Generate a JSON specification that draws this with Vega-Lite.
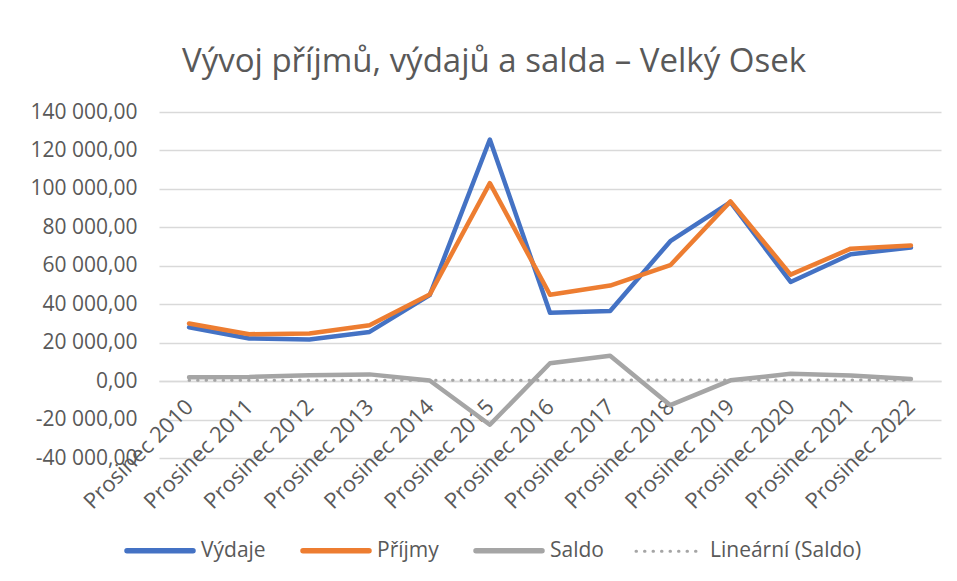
{
  "$schema": "https://vega.github.io/schema/vega-lite/v6.json",
  "width": 782,
  "height": 346,
  "autosize": {"type": "none"},
  "padding": {"top": 112, "left": 159, "right": 16, "bottom": 123},
  "background": "white",
  "title": {
    "text": "Vývoj příjmů, výdajů a salda – Velký Osek",
    "font": "Open Sans",
    "fontSize": 33,
    "fontWeight": "normal",
    "color": "#595959",
    "anchor": "middle",
    "dx": -56,
    "offset": 22
  },
  "data": {
    "values": [
      {"rok": 2010, "series": "Výdaje", "value": 28000},
      {"rok": 2011, "series": "Výdaje", "value": 22200},
      {"rok": 2012, "series": "Výdaje", "value": 21700},
      {"rok": 2013, "series": "Výdaje", "value": 25600},
      {"rok": 2014, "series": "Výdaje", "value": 44700},
      {"rok": 2015, "series": "Výdaje", "value": 125700},
      {"rok": 2016, "series": "Výdaje", "value": 35600},
      {"rok": 2017, "series": "Výdaje", "value": 36500},
      {"rok": 2018, "series": "Výdaje", "value": 72800},
      {"rok": 2019, "series": "Výdaje", "value": 93100},
      {"rok": 2020, "series": "Výdaje", "value": 51600},
      {"rok": 2021, "series": "Výdaje", "value": 66000},
      {"rok": 2022, "series": "Výdaje", "value": 69500},
      {"rok": 2010, "series": "Příjmy", "value": 30000},
      {"rok": 2011, "series": "Příjmy", "value": 24400},
      {"rok": 2012, "series": "Příjmy", "value": 24800},
      {"rok": 2013, "series": "Příjmy", "value": 29100},
      {"rok": 2014, "series": "Příjmy", "value": 45000},
      {"rok": 2015, "series": "Příjmy", "value": 103000},
      {"rok": 2016, "series": "Příjmy", "value": 44900},
      {"rok": 2017, "series": "Příjmy", "value": 49700},
      {"rok": 2018, "series": "Příjmy", "value": 60300},
      {"rok": 2019, "series": "Příjmy", "value": 93500},
      {"rok": 2020, "series": "Příjmy", "value": 55400},
      {"rok": 2021, "series": "Příjmy", "value": 68900},
      {"rok": 2022, "series": "Příjmy", "value": 70600},
      {"rok": 2010, "series": "Saldo", "value": 2000},
      {"rok": 2011, "series": "Saldo", "value": 2200},
      {"rok": 2012, "series": "Saldo", "value": 3100},
      {"rok": 2013, "series": "Saldo", "value": 3500},
      {"rok": 2014, "series": "Saldo", "value": 300},
      {"rok": 2015, "series": "Saldo", "value": -22700},
      {"rok": 2016, "series": "Saldo", "value": 9300},
      {"rok": 2017, "series": "Saldo", "value": 13200},
      {"rok": 2018, "series": "Saldo", "value": -12500},
      {"rok": 2019, "series": "Saldo", "value": 400},
      {"rok": 2020, "series": "Saldo", "value": 3800},
      {"rok": 2021, "series": "Saldo", "value": 2900},
      {"rok": 2022, "series": "Saldo", "value": 1100}
    ]
  },
  "encoding": {
    "x": {
      "field": "rok",
      "type": "ordinal",
      "axis": {
        "title": null,
        "offset": -77,
        "labelExpr": "'Prosinec ' + datum.value",
        "labelAngle": -45,
        "labelAlign": "right",
        "labelBaseline": "middle",
        "labelPadding": 22,
        "labelFont": "Open Sans",
        "labelFontSize": 22,
        "labelColor": "#595959",
        "ticks": false,
        "grid": false,
        "domain": true,
        "domainColor": "#D9D9D9",
        "domainWidth": 1.3,
        "labelOverlap": false
      }
    },
    "y": {
      "field": "value",
      "type": "quantitative",
      "scale": {"domain": [-40000, 140000], "nice": false, "zero": false},
      "axis": {
        "title": null,
        "values": [-40000, -20000, 0, 20000, 40000, 60000, 80000, 100000, 120000, 140000],
        "format": ",.2f",
        "labelFont": "Open Sans",
        "labelFontSize": 21,
        "labelColor": "#595959",
        "labelPadding": 22,
        "ticks": false,
        "domain": false,
        "grid": true,
        "gridColor": "#D9D9D9",
        "gridWidth": 1.3
      }
    }
  },
  "layer": [
    {
      "mark": {"type": "line", "strokeWidth": 4.5, "strokeJoin": "round", "strokeCap": "round"},
      "encoding": {
        "color": {
          "field": "series",
          "type": "nominal",
          "scale": {
            "domain": ["Výdaje", "Příjmy", "Saldo", "Lineární (Saldo)"],
            "range": ["#4472C4", "#ED7D31", "#A5A5A5", "#A5A5A5"]
          },
          "legend": {
            "title": null,
            "orient": "none",
            "direction": "horizontal",
            "legendX": -35,
            "legendY": 428,
            "symbolType": "stroke",
            "symbolSize": 4356,
            "symbolStrokeWidth": 5.5,
            "labelFont": "Open Sans",
            "labelFontSize": 21,
            "labelColor": "#595959",
            "labelOffset": 56,
            "columnPadding": 26,
            "encode": {
              "symbols": {
                "update": {
                  "x": {"value": 36},
                  "strokeDash": {"signal": "datum.value === 'Lineární (Saldo)' ? [0.5, 8] : [1, 0]"},
                  "strokeWidth": {"signal": "datum.value === 'Lineární (Saldo)' ? 3 : 5.5"},
                  "strokeCap": {"value": "round"}
                }
              }
            }
          }
        }
      }
    },
    {
      "transform": [
        {"filter": "datum.series === 'Saldo'"},
        {"regression": "value", "on": "rok"}
      ],
      "mark": {"type": "line", "strokeWidth": 3, "strokeDash": [0.5, 8], "strokeCap": "round"},
      "encoding": {
        "color": {"datum": "Lineární (Saldo)"}
      }
    }
  ],
  "config": {
    "locale": {
      "number": {"decimal": ",", "thousands": " ", "grouping": [3], "currency": ["", " Kč"], "minus": "-"}
    },
    "view": {"stroke": null}
  }
}
